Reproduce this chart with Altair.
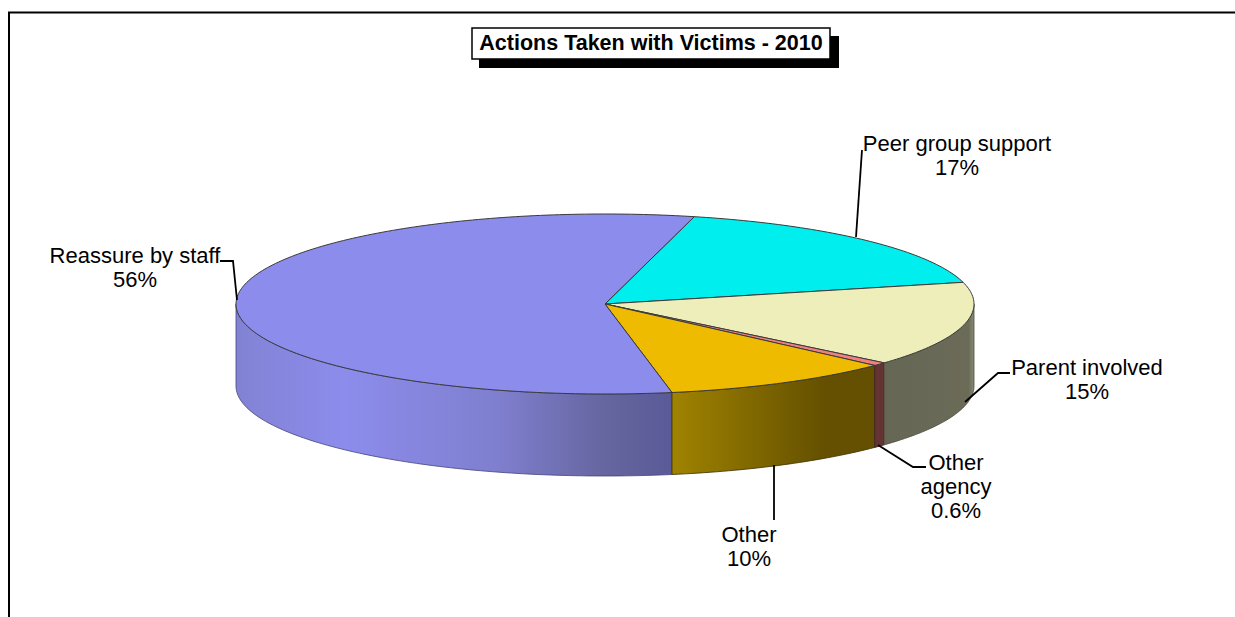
import math
import altair as alt
import pandas as pd

# Shares as printed on the slice labels
categories = ["Peer group support", "Parent involved", "Other agency", "Other", "Reassure by staff"]
shares = [17, 15, 0.6, 10, 56]
share_labels = ["17%", "15%", "0.6%", "10%", "56%"]
top_colours = ["#00EEEE", "#EEEEBB", "#EE8080", "#EEBB00", "#8C8CEC"]

# Canvas and pie geometry, in pixels
W, H = 1235, 617
CX, CY, RX, RY, DEPTH = 605, 304, 369, 90, 82
START_DEG = 14.0

X = alt.X("x:Q", scale=alt.Scale(domain=[0, W], range=[0, W]), axis=None)
Y = alt.Y("y:Q", scale=alt.Scale(domain=[0, H], range=[0, H]), axis=None)
X2 = alt.X2("x2:Q")
Y2 = alt.Y2("y2:Q")


def on_rim(deg):
    t = math.radians(deg)
    return CX + RX * math.sin(t), CY - RY * math.cos(t)


# Slice boundaries, clockwise from the first slice's leading edge
total = sum(shares)
edges = [START_DEG]
for s in shares:
    edges.append(edges[-1] + 360 * s / total)


def sweep(a, b, step=1.0):
    n = max(2, int(abs(b - a) / step) + 1)
    return [a + (b - a) * i / (n - 1) for i in range(n)]


def wall(a, b, stops, stroke_colour):
    """Side wall of a slice between rim angles a and b, shaded left to right."""
    rows = []
    for d in sweep(a, b):
        x, y = on_rim(d)
        rows.append({"x": x, "y": y, "y2": y + DEPTH})
    gradient = alt.Gradient(
        gradient="linear",
        x1=0, x2=1, y1=0, y2=0,
        stops=[alt.GradientStop(offset=o, color=c) for o, c in stops],
    )
    return alt.Chart(pd.DataFrame(rows)).mark_area(
        fill=gradient, orient="vertical", stroke=stroke_colour, strokeWidth=0.8
    ).encode(x=X, y=Y, y2=Y2)


def top_face(i):
    """Flat wedge on the top of the pie for slice i."""
    pts = [(CX, CY)] + [on_rim(d) for d in sweep(edges[i], edges[i + 1])] + [(CX, CY)]
    rows = [{"x": x, "y": y, "k": k} for k, (x, y) in enumerate(pts)]
    return alt.Chart(pd.DataFrame(rows)).mark_line(
        fill=top_colours[i], stroke="#3a3a3a", strokeWidth=1, interpolate="linear"
    ).encode(x=X, y=Y, order="k:Q")


walls = [
    wall(edges[4], 270, [(0, "#8282d4"), (0.25, "#8c8cec"), (0.6, "#7f7fcf"), (0.85, "#65659f"), (1, "#5a5a98")], "#44447a"),
    wall(edges[3], edges[4], [(0, "#a08300"), (0.45, "#7c6400"), (0.75, "#645000"), (1, "#645000")], "#3a3000"),
    wall(edges[2], edges[3], [(0, "#663333"), (1, "#663333")], "#3a2020"),
    wall(90, edges[2], [(0, "#666655"), (0.94, "#6b6b58"), (1, "#8a8a78")], "#4a4a3c"),
]
tops = [top_face(i) for i in range(len(shares))]

# Leader lines from each label to its slice
leaders = [
    [(862, 150), (856, 237)],
    [(1010, 373), (998, 373), (965, 402)],
    [(926, 467), (913, 467), (878, 445)],
    [(774, 465), (774, 520)],
    [(220, 261), (233, 261), (237, 300)],
]
leader_rows = [
    {"x": x, "y": y, "k": k, "g": categories[g]}
    for g, path in enumerate(leaders)
    for k, (x, y) in enumerate(path)
]
leader_layer = alt.Chart(pd.DataFrame(leader_rows)).mark_line(color="#000000", strokeWidth=1.8).encode(
    x=X, y=Y, order="k:Q", detail="g:N"
)

# Slice labels: category wrapped as drawn, then the share
wrapped = ["Peer group support", "Parent involved", "Other\nagency", "Other", "Reassure by staff"]
label_x = [957, 1087, 956, 749, 135]
label_y = [144, 368, 463, 535, 256]
label_df = pd.DataFrame({
    "x": label_x,
    "y": label_y,
    "t": [f"{w}\n{s}" for w, s in zip(wrapped, share_labels)],
})
label_layer = alt.Chart(label_df).mark_text(
    font="Liberation Sans", fontSize=22, color="#000000", align="center",
    baseline="middle", lineBreak="\n", lineHeight=24,
).encode(x=X, y=Y, text="t:N")

# Outer frame
frame_df = pd.DataFrame({"x": [1235, 9, 9], "y": [12.5, 12.5, 617], "k": [0, 1, 2]})
frame = alt.Chart(frame_df).mark_line(color="#000000", strokeWidth=2).encode(x=X, y=Y, order="k:Q")

# Title box with its drop shadow
title_text = "Actions Taken with Victims - 2010"
shadow = alt.Chart(pd.DataFrame({"x": [479], "x2": [839], "y": [36], "y2": [68]})).mark_rect(
    color="#000000"
).encode(x=X, x2=X2, y=Y, y2=Y2)
box = alt.Chart(pd.DataFrame({"x": [472], "x2": [830], "y": [28], "y2": [59]})).mark_rect(
    fill="#ffffff", stroke="#000000", strokeWidth=1.5
).encode(x=X, x2=X2, y=Y, y2=Y2)
title_layer = alt.Chart(pd.DataFrame({"x": [651], "y": [44], "t": [title_text]})).mark_text(
    font="Liberation Sans", fontSize=21.5, fontWeight="bold", color="#000000",
    align="center", baseline="middle",
).encode(x=X, y=Y, text="t:N")

chart = alt.layer(
    frame, *walls, *tops, leader_layer, label_layer, shadow, box, title_layer
).properties(
    width=W, height=H, padding=0, autosize=alt.AutoSizeParams(type="none"),
    background="#ffffff",
).configure_view(stroke=None)

chart.save("out.html", embed_options={"renderer": "svg", "actions": False})
